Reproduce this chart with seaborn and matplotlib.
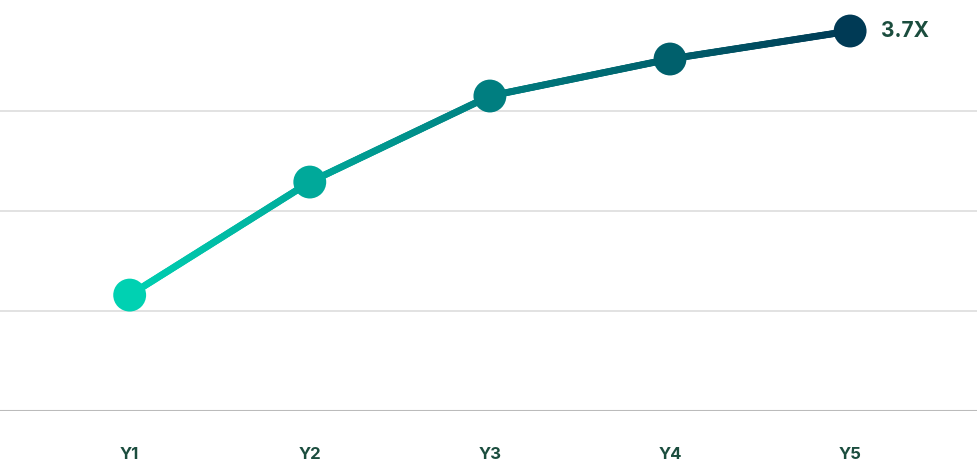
import numpy as np
import matplotlib
matplotlib.use("Agg")
import matplotlib.pyplot as plt
import seaborn as sns
from matplotlib.collections import LineCollection
from matplotlib.colors import LinearSegmentedColormap

categories = ["Y1", "Y2", "Y3", "Y4", "Y5"]
values = [1.16, 2.29, 3.15, 3.52, 3.80]
end_label = "3.7X"

sns.set_style("white")
plt.rcParams['font.family'] = ['Inter', 'DejaVu Sans']
fig = plt.figure(figsize=(9.78, 4.72), dpi=100)
ax = fig.add_axes([0, 0.129, 1, 0.871])
cmap = LinearSegmentedColormap.from_list("g", ["#00D1B2", "#00A99A", "#007E80", "#00606C", "#003A55"])

x = np.arange(len(categories))
xs = np.linspace(0, len(categories) - 1, 400)
ys = np.interp(xs, x, values)
pts = np.array([xs, ys]).T.reshape(-1, 1, 2)
segs = np.concatenate([pts[:-1], pts[1:]], axis=1)
lc = LineCollection(segs, colors=cmap(xs[:-1] / xs.max()), linewidth=5, capstyle="round", zorder=3)
ax.add_collection(lc)
sns.scatterplot(x=x, y=values, hue=x, palette=[cmap(i / 4) for i in x], s=560, legend=False,
                edgecolor="none", zorder=4, ax=ax)

ax.set_xlim(-0.72, 4.71)
ax.set_ylim(0, 4.11)
for g in [1, 2, 3]:
    ax.axhline(g, color="#dddddd", lw=1.2, zorder=1)
ax.axhline(0, color="#bbbbbb", lw=1.5, zorder=1)
ax.set_yticks([])
ax.set_xticks(x)
ax.set_xticklabels(categories, fontsize=12, fontweight="bold", color="#1B4D3E")
ax.tick_params(axis="x", length=0, pad=26)
for s in ax.spines.values():
    s.set_visible(False)
ax.text(4.17, values[-1], end_label, fontsize=15, fontweight="bold", color="#1B4D3E", va="center")
fig.savefig("out.png", dpi=100)
